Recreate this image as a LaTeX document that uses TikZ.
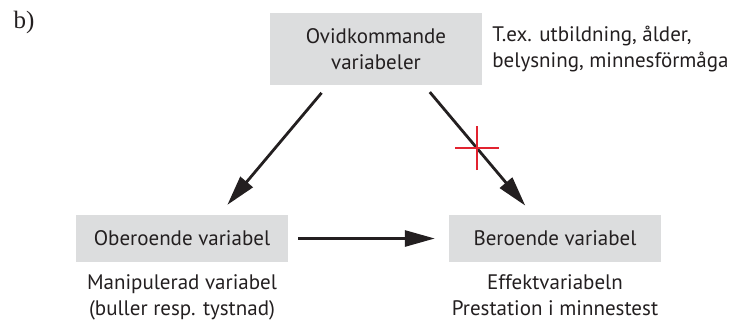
\documentclass[tikz,border=0pt]{standalone}
\usepackage{fontspec}
\setsansfont{PT Sans}
\newfontfamily\bokstav{Liberation Serif}
\usetikzlibrary{positioning,arrows.meta}
\definecolor{ruta}{RGB}{220,221,222}
\definecolor{svart}{RGB}{35,31,32}
\definecolor{kryss}{RGB}{226,35,48}
\begin{document}
\begin{tikzpicture}[
      x=1pt, y=-1pt,
      every node/.style={text=svart, font=\sffamily\fontsize{21}{26}\selectfont},
      V/.style={fill=ruta, minimum width=212pt, minimum height=47pt, align=center, inner sep=0pt},
      K/.style={align=center, inner sep=0pt},
      A/.style={draw=svart, line width=2.8pt, -{Triangle[length=30pt, width=16pt]}}]
  \useasboundingbox (0,0) rectangle (733,322);
  \node[font=\bokstav\fontsize{25}{28}\selectfont, anchor=west] (etikett) at (10,22) {b)};
  \node[V, minimum height=72pt] (ovid) at (376,49) {Ovidkommande\\variabeler};
  \node[K, align=left, right=10pt of ovid] (tex) {T.ex. utbildning, ålder,\\belysning, minnesförmåga};
  \node[V] (ober) at (182,238.5) {Oberoende variabel};
  \node[V] (ber) at (555,238.5) {Beroende variabel};
  \node[K, below=12pt of ober] (manip) {Manipulerad variabel\\(buller resp. tystnad)};
  \node[K, below=12pt of ber] (effekt) {Effektvariabeln\\Prestation i minnestest};
  \draw[A, shorten <=10pt, shorten >=13pt] ([xshift=-48pt]ovid.south) -- ([xshift=37pt]ober.north);
  \draw[A, shorten <=9pt, shorten >=12pt] ([xshift=48pt]ovid.south) -- ([xshift=-22pt]ber.north);
  \draw[A, shorten <=10pt, shorten >=14pt] (ober) -- (ber);
  \coordinate (kryss) at (477,148);
  \draw[kryss, line width=1.1pt] ([xshift=-22pt]kryss) -- ([xshift=22pt]kryss)
    ([yshift=-22pt]kryss) -- ([yshift=22pt]kryss);
\end{tikzpicture}
\end{document}
